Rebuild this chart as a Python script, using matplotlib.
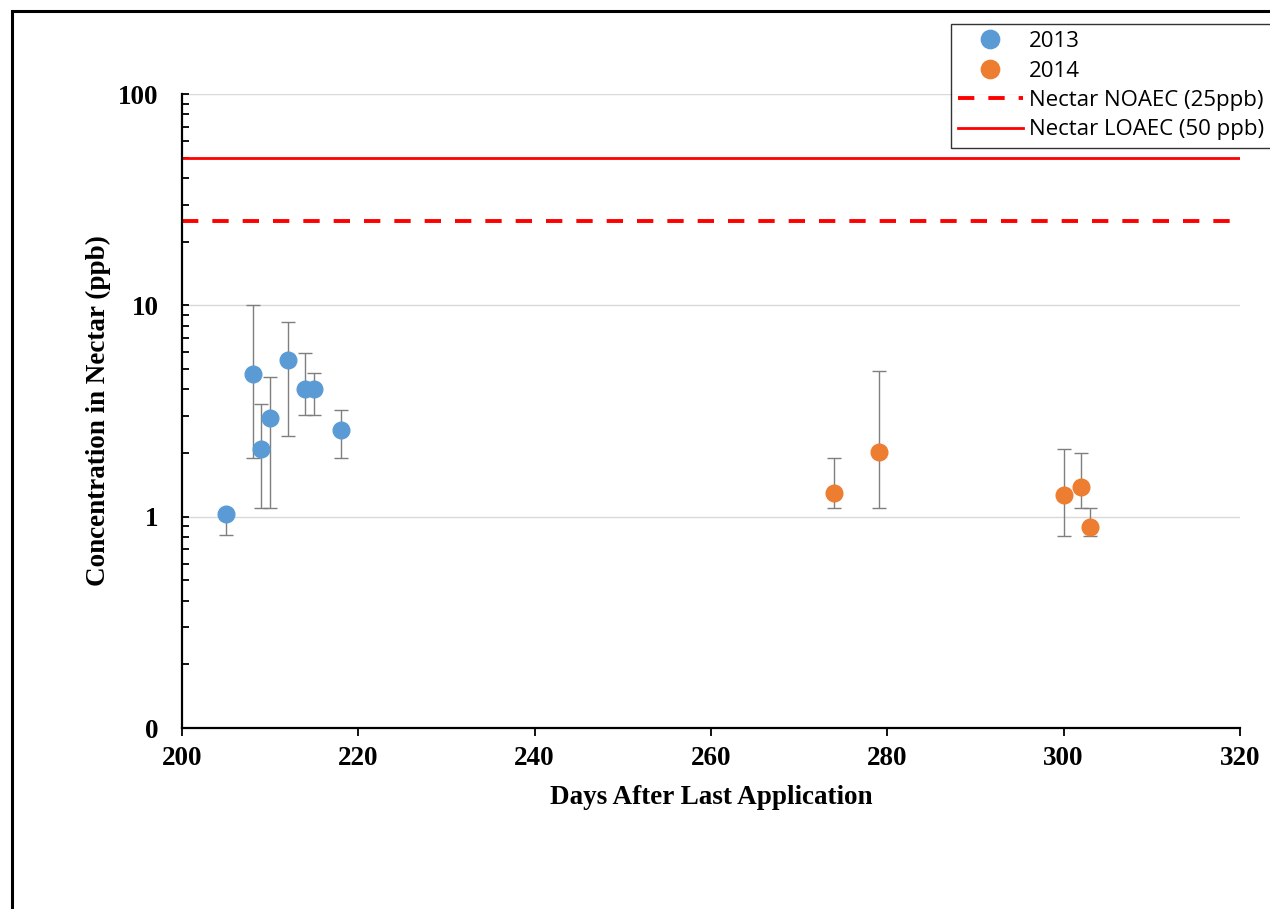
import numpy as np
import matplotlib.pyplot as plt
from matplotlib.patches import Rectangle
from matplotlib.ticker import FixedLocator, FixedFormatter, LogLocator, NullFormatter

# mean residue concentration with min / max range, per sampling day
days_2013 = [205, 208, 209, 210, 212, 214, 215, 218]
conc_2013 = [1.03, 4.73, 2.09, 2.93, 5.52, 4.02, 4.02, 2.57]
low_2013 = [0.82, 1.90, 1.10, 1.10, 2.41, 3.03, 3.03, 1.90]
high_2013 = [1.08, 10.0, 3.41, 4.58, 8.35, 5.95, 4.79, 3.20]

days_2014 = [274, 279, 300, 302, 303]
conc_2014 = [1.29, 2.02, 1.27, 1.38, 0.89]
low_2014 = [1.10, 1.10, 0.81, 1.10, 0.81]
high_2014 = [1.90, 4.89, 2.09, 2.00, 1.10]

noaec = 25
loaec = 50

y_ticks = [0.1, 1, 10, 100]
y_tick_labels = ["0", "1", "10", "100"]
x_ticks = [200, 220, 240, 260, 280, 300, 320]

blue = "#5B9BD5"
orange = "#ED7D31"
serif = "Liberation Serif"

fig = plt.figure(figsize=(12.7, 9.09), dpi=100)
ax = fig.add_axes([182 / 1270, 1 - 728 / 909, (1240 - 182) / 1270, (728 - 94) / 909])

# outer chart frame
fig.patches.append(Rectangle((12 / 1270, -0.1), 1.2, 1 - 11 / 909 + 0.1,
                             transform=fig.transFigure, fill=False,
                             edgecolor="black", linewidth=2.2))

def range_errors(mean, low, high):
    mean = np.array(mean)
    return [mean - np.array(low), np.array(high) - mean]

ax.errorbar(days_2013, conc_2013, yerr=range_errors(conc_2013, low_2013, high_2013),
            fmt="none", ecolor="#7f7f7f", elinewidth=1, capsize=5, capthick=1, zorder=2)
ax.errorbar(days_2014, conc_2014, yerr=range_errors(conc_2014, low_2014, high_2014),
            fmt="none", ecolor="#7f7f7f", elinewidth=1, capsize=5, capthick=1, zorder=2)
ax.plot(days_2013, conc_2013, "o", color=blue, markersize=12, linestyle="none",
        label="2013", zorder=3)
ax.plot(days_2014, conc_2014, "o", color=orange, markersize=12, linestyle="none",
        label="2014", zorder=3)

ax.axhline(noaec, color="red", linewidth=2.8, linestyle=(0, (4.2, 3.6)),
           label="Nectar NOAEC (25ppb)", zorder=2)
ax.axhline(loaec, color="red", linewidth=2.0, label="Nectar LOAEC (50 ppb)", zorder=2)

ax.set_yscale("log")
ax.set_ylim(0.1, 100)
ax.set_xlim(200, 320)

ax.yaxis.set_major_locator(FixedLocator(y_ticks))
ax.yaxis.set_major_formatter(FixedFormatter(y_tick_labels))
ax.yaxis.set_minor_locator(LogLocator(base=10, subs=np.arange(2, 10)))
ax.yaxis.set_minor_formatter(NullFormatter())
ax.set_xticks(x_ticks)

ax.grid(axis="y", which="major", color="#d9d9d9", linewidth=1, zorder=0)
ax.set_axisbelow(True)

for side in ["top", "right"]:
    ax.spines[side].set_visible(False)
for side in ["left", "bottom"]:
    ax.spines[side].set_linewidth(1.6)

ax.tick_params(axis="y", which="both", direction="in", length=5, width=1.3, pad=17)
ax.tick_params(axis="x", which="major", direction="out", length=6, width=1.3, pad=7)

for lbl in ax.get_xticklabels() + ax.get_yticklabels():
    lbl.set_fontfamily(serif)
    lbl.set_fontweight("bold")
    lbl.set_fontsize(19.5)

ax.set_xlabel("Days After Last Application", fontfamily=serif, fontweight="bold",
              fontsize=19.5, labelpad=10)
ax.set_ylabel("Concentration in Nectar (ppb)", fontfamily=serif, fontweight="bold",
              fontsize=19.5, labelpad=5)

leg = fig.legend(loc="upper left", bbox_to_anchor=(951 / 1270, 1 - 24 / 909),
                 frameon=True, fancybox=False, edgecolor="black",
                 prop={"family": "Open Sans", "size": 16},
                 handlelength=2.9, handletextpad=0.3, borderpad=0.32,
                 labelspacing=0.38, borderaxespad=0, markerscale=1.1)
leg.get_frame().set_linewidth(1.0)

fig.savefig("out.png", dpi=100)
